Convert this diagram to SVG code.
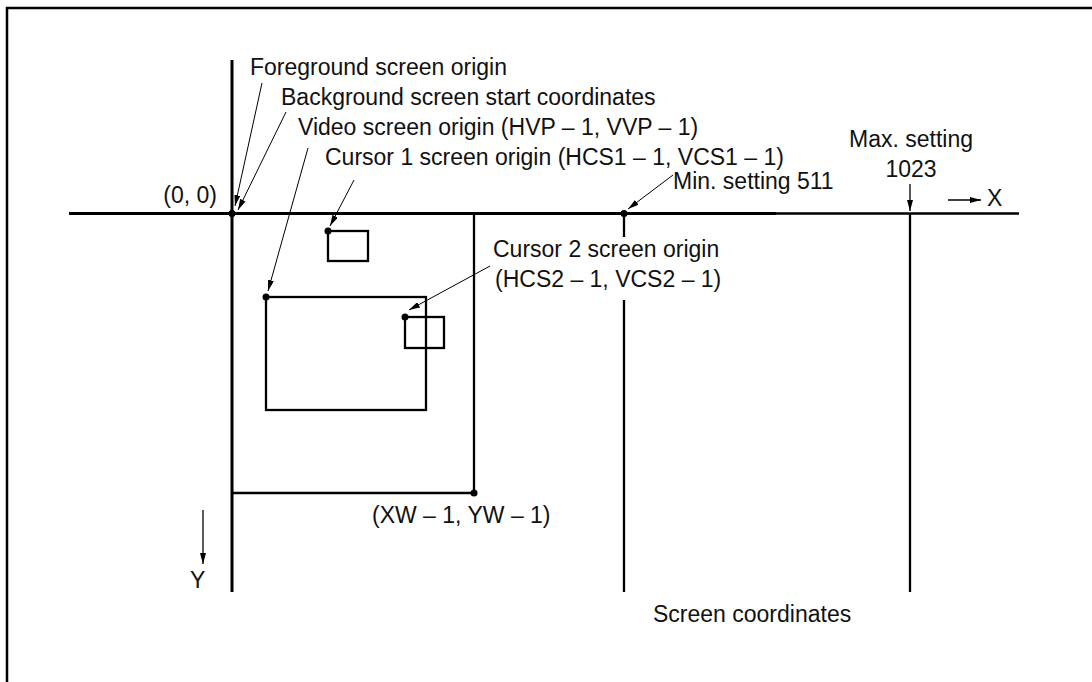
<svg xmlns="http://www.w3.org/2000/svg" width="1092" height="682" viewBox="0 0 1092 682">
<defs>
<marker id="ah" markerUnits="userSpaceOnUse" markerWidth="11" markerHeight="6" refX="11" refY="3" orient="auto">
<path d="M0,0 L11,3 L0,6 z" fill="#000"/>
</marker>
<style>
text{font-family:"Liberation Sans",Arial,sans-serif;font-size:23px;fill:#111}
.ax{stroke:#000;stroke-width:3;fill:none}
.ln{stroke:#000;stroke-width:2.3;fill:none}
.box{stroke:#000;stroke-width:2.3;fill:none}
.lead{stroke:#000;stroke-width:1;fill:none;marker-end:url(#ah)}
.arr{stroke:#000;stroke-width:1.3;fill:none;marker-end:url(#ah)}
</style>
</defs>
<rect x="0" y="0" width="1092" height="682" fill="#fff"/>
<rect x="7" y="8" width="1110" height="700" fill="none" stroke="#000" stroke-width="2.5"/>

<g id="axes">
<line class="ax" x1="69" y1="213.5" x2="776" y2="213.5"/>
<line class="ln" x1="776" y1="213.5" x2="1019" y2="213.5"/>
<line class="ax" x1="232" y1="60" x2="232" y2="592"/>
<line class="ln" x1="624" y1="213" x2="624" y2="237"/>
<line class="ln" x1="624" y1="300" x2="624" y2="592"/>
<line class="ln" x1="910" y1="213" x2="910" y2="592"/>
<circle cx="232" cy="213.5" r="3.5"/>
<circle cx="624" cy="213.5" r="3.5"/>
</g>

<g id="background-screen">
<polyline class="box" points="232,493 474,493 474,213"/>
<circle cx="474" cy="493" r="3.5"/>
</g>
<g id="video-screen">
<rect class="box" x="266" y="297" width="160" height="113"/>
<circle cx="266" cy="297" r="3.5"/>
</g>
<g id="cursor1">
<rect class="box" x="328" y="231" width="40" height="30"/>
<circle cx="328" cy="231" r="3.5"/>
</g>
<g id="cursor2">
<rect class="box" x="405" y="317" width="39" height="31"/>
<circle cx="405" cy="317" r="3.5"/>
</g>

<g id="connectors">
<line class="lead" x1="262" y1="83" x2="235" y2="206"/>
<line class="lead" x1="286" y1="112" x2="238" y2="210"/>
<line class="lead" x1="308" y1="148" x2="268" y2="291"/>
<line class="lead" x1="354" y1="180" x2="330" y2="226"/>
<line class="lead" x1="490" y1="266" x2="409" y2="310"/>
<line class="lead" x1="673" y1="175" x2="628" y2="209"/>
<line class="arr" x1="910" y1="184" x2="910" y2="211"/>
<line class="arr" x1="948" y1="200" x2="981" y2="200"/>
<line class="arr" x1="203" y1="510" x2="203" y2="564"/>
</g>

<g id="labels">
<text x="250" y="75">Foreground screen origin</text>
<text x="281" y="105">Background screen start coordinates</text>
<text x="298" y="135">Video screen origin (HVP – 1, VVP – 1)</text>
<text x="325" y="165">Cursor 1 screen origin (HCS1 – 1, VCS1 – 1)</text>
<text x="217" y="203" text-anchor="end">(0, 0)</text>
<text x="673" y="189">Min. setting 511</text>
<text x="911" y="147" text-anchor="middle">Max. setting</text>
<text x="911" y="177" text-anchor="middle">1023</text>
<text x="987" y="206">X</text>
<text x="493" y="257">Cursor 2 screen origin</text>
<text x="495" y="287">(HCS2 – 1, VCS2 – 1)</text>
<text x="372" y="523">(XW – 1, YW – 1)</text>
<text x="190" y="588">Y</text>
<text x="653" y="622">Screen coordinates</text>
</g>
</svg>
